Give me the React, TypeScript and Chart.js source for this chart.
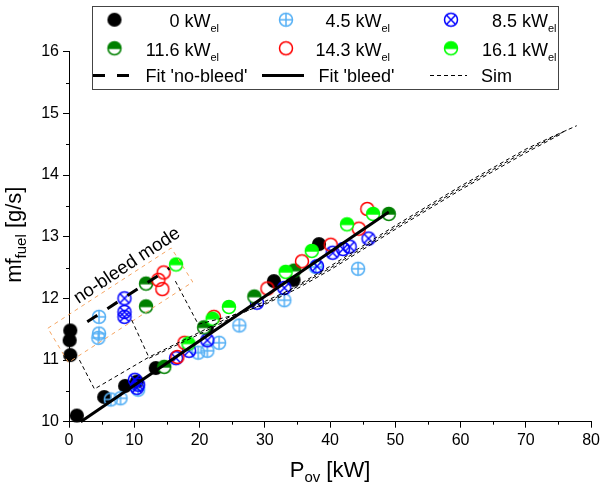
import React, { useEffect, useRef } from "react";
import { Chart, registerables } from "chart.js";

Chart.register(...registerables);

const FONT = "'Liberation Sans', Arial, Helvetica, sans-serif";

// ---- data (kW, g/s) ----
const kw0X = [0.2, 0.1, 0.2, 1.2, 5.4, 8.6, 10.4, 13.3, 21.1, 31.4, 34.4, 38.3];
const kw0Y = [11.48, 11.32, 11.08, 10.1, 10.4, 10.58, 10.65, 10.87, 11.52, 12.28, 12.3, 12.88];

const kw45X = [4.6, 4.6, 4.5, 6.4, 7.9, 10.6, 19.8, 21.2, 23.0, 26.1, 33.0, 37.8, 44.3];
const kw45Y = [11.7, 11.43, 11.36, 10.36, 10.38, 10.52, 11.12, 11.15, 11.28, 11.56, 11.97, 12.51, 12.48];

const kw85X = [8.5, 8.5, 8.5, 10.1, 10.6, 10.4, 16.4, 18.4, 21.2, 28.8, 33.0, 38.0, 40.4, 42.0, 43.0, 45.9];
const kw85Y = [12.0, 11.78, 11.7, 10.68, 10.6, 10.55, 11.03, 11.15, 11.32, 11.93, 12.17, 12.52, 12.74, 12.8, 12.84, 12.97];

const kw116X = [11.8, 11.8, 14.6, 20.7, 28.4, 34.5, 49.0];
const kw116Y = [12.24, 11.87, 10.89, 11.53, 12.03, 12.45, 13.37];

const kw143X = [14.5, 13.7, 14.3, 16.6, 17.7, 22.2, 30.4, 35.7, 40.1, 44.4, 45.7];
const kw143Y = [12.42, 12.3, 12.15, 11.05, 11.28, 11.7, 12.16, 12.6, 12.87, 13.13, 13.45];

const kw161X = [16.4, 18.3, 22.0, 24.5, 33.2, 37.2, 42.6, 46.6];
const kw161Y = [12.55, 11.27, 11.67, 11.86, 12.43, 12.77, 13.2, 13.37];

const fitNoBleedX = [2.8, 15.4];
const fitNoBleedY = [11.62, 12.49];

const fitBleedX = [1.8, 49.0];
const fitBleedY = [10.0, 13.4];

const sim1X = [1.6, 3.9, 12.3, 20, 25, 30, 33.7, 40, 45, 50, 55, 60, 65, 70, 74, 77.8];
const sim1Y = [11.0, 10.53, 11.05, 11.45, 11.72, 11.95, 12.13, 12.52, 12.85, 13.18, 13.5, 13.82, 14.12, 14.42, 14.62, 14.8];
const sim2X = [9.6, 12.3, 20, 25, 30, 35, 40, 45, 50, 55, 60, 65, 70, 76.3];
const sim2Y = [11.65, 11.03, 11.42, 11.69, 11.92, 12.19, 12.49, 12.82, 13.15, 13.47, 13.79, 14.09, 14.39, 14.73];
const sim3X = [16.3, 19.8, 25, 30, 35, 40, 45, 50, 55, 60, 65, 70, 75.3];
const sim3Y = [12.28, 11.58, 11.72, 11.9, 12.16, 12.46, 12.79, 13.12, 13.44, 13.76, 14.06, 14.36, 14.66];

// no-bleed region box corners
const boxX = [-3.24, 15.67, 18.96, -0.1, -3.24];
const boxY = [11.515, 12.817, 12.265, 10.96, 11.515];
const boxLabel = "no-bleed mode";
const boxLabelAnchor = [1.45, 11.91];

const xMinorTicks = [5, 15, 25, 35, 45, 55, 65, 75];
const yMinorTicks = [10.5, 11.5, 12.5, 13.5, 14.5, 15.5];

const seriesLabels = ["0", "4.5", "8.5", "11.6", "14.3", "16.1"];

const LIGHTBLUE = "#55b0f5";
const BLUE = "#0000ff";
const DKGREEN = "#008000";
const RED = "#ff0000";
const GREEN = "#00ff00";

function makeMarker(kind: string, color: string): HTMLCanvasElement {
  const c = document.createElement("canvas");
  const S = 18;
  c.width = S;
  c.height = S;
  const g = c.getContext("2d")!;
  const cx = S / 2, cy = S / 2, r = 6.5;
  g.lineWidth = 1.5;
  g.strokeStyle = color;
  g.fillStyle = color;
  if (kind === "filled") {
    g.beginPath();
    g.arc(cx, cy, 7.1, 0, Math.PI * 2);
    g.fill();
  } else if (kind === "open") {
    g.beginPath();
    g.arc(cx, cy, r, 0, Math.PI * 2);
    g.stroke();
  } else if (kind === "plus") {
    g.beginPath();
    g.arc(cx, cy, r, 0, Math.PI * 2);
    g.stroke();
    g.beginPath();
    g.moveTo(cx - r, cy);
    g.lineTo(cx + r, cy);
    g.moveTo(cx, cy - r);
    g.lineTo(cx, cy + r);
    g.stroke();
  } else if (kind === "cross") {
    g.beginPath();
    g.arc(cx, cy, r, 0, Math.PI * 2);
    g.stroke();
    const d = r * 0.72;
    g.beginPath();
    g.moveTo(cx - d, cy - d);
    g.lineTo(cx + d, cy + d);
    g.moveTo(cx + d, cy - d);
    g.lineTo(cx - d, cy + d);
    g.stroke();
  } else if (kind === "half") {
    g.fillStyle = "#ffffff";
    g.beginPath();
    g.arc(cx, cy, r, 0, Math.PI * 2);
    g.fill();
    g.fillStyle = color;
    g.beginPath();
    g.arc(cx, cy, r, Math.PI, Math.PI * 2);
    g.closePath();
    g.fill();
    g.beginPath();
    g.arc(cx, cy, r, 0, Math.PI * 2);
    g.stroke();
    g.beginPath();
    g.moveTo(cx - r, cy);
    g.lineTo(cx + r, cy);
    g.stroke();
  }
  return c;
}

const pts = (xs: number[], ys: number[]) => xs.map((x, i) => ({ x, y: ys[i] }));

export default function App() {
  const ref = useRef<HTMLCanvasElement>(null);

  useEffect(() => {
    const canvas = ref.current!;
    const markers = [
      makeMarker("filled", "#000000"),
      makeMarker("plus", LIGHTBLUE),
      makeMarker("cross", BLUE),
      makeMarker("half", DKGREEN),
      makeMarker("open", RED),
      makeMarker("half", GREEN),
    ];
    const seriesX = [kw0X, kw45X, kw85X, kw116X, kw143X, kw161X];
    const seriesY = [kw0Y, kw45Y, kw85Y, kw116Y, kw143Y, kw161Y];

    const scatterSets = seriesX.map((xs, i) => ({
      type: "scatter" as const,
      label: seriesLabels[i] + " kWel",
      data: pts(xs, seriesY[i]),
      pointStyle: markers[i],
      pointRadius: 7,
      pointHoverRadius: 7,
      showLine: false,
      clip: false,
      order: 10 - i,
    }));

    const line = (label: string, xs: number[], ys: number[], color: string, width: number, dash: number[], order: number) => ({
      type: "line" as const,
      label,
      data: pts(xs, ys),
      borderColor: color,
      borderWidth: width,
      borderDash: dash,
      pointRadius: 0,
      pointHoverRadius: 0,
      fill: false,
      tension: 0,
      clip: false,
      order,
    });

    const lineSets = [
      line("box", boxX, boxY, "#f5a562", 1, [4, 4], 3),
      line("Sim", sim1X, sim1Y, "#000000", 1, [4, 3], 2),
      line("Sim2", sim2X, sim2Y, "#000000", 1, [4, 3], 2),
      line("Sim3", sim3X, sim3Y, "#000000", 1, [4, 3], 2),
      line("Fit 'no-bleed'", fitNoBleedX, fitNoBleedY, "#000000", 3, [12, 12], 1),
      line("Fit 'bleed'", fitBleedX, fitBleedY, "#000000", 3, [], 1),
    ];

    const deco = {
      id: "deco",
      afterDraw(chart: any) {
        const ctx = chart.ctx as CanvasRenderingContext2D;
        const xs = chart.scales.x;
        const ys = chart.scales.y;
        ctx.save();
        // minor ticks
        ctx.strokeStyle = "#000";
        ctx.lineWidth = 1;
        ctx.setLineDash([]);
        for (const v of xMinorTicks) {
          const px = Math.round(xs.getPixelForValue(v)) + 0.5;
          ctx.beginPath();
          ctx.moveTo(px, xs.top);
          ctx.lineTo(px, xs.top + 3);
          ctx.stroke();
        }
        for (const v of yMinorTicks) {
          const py = Math.round(ys.getPixelForValue(v)) + 0.5;
          ctx.beginPath();
          ctx.moveTo(ys.right, py);
          ctx.lineTo(ys.right - 3, py);
          ctx.stroke();
        }

        // annotation text
        ctx.fillStyle = "#000";
        ctx.font = `18.5px ${FONT}`;
        ctx.textAlign = "left";
        ctx.textBaseline = "alphabetic";
        ctx.save();
        ctx.translate(xs.getPixelForValue(boxLabelAnchor[0]), ys.getPixelForValue(boxLabelAnchor[1]));
        ctx.rotate((-33.5 * Math.PI) / 180);
        ctx.fillText(boxLabel, 0, 0);
        ctx.restore();

        // axis titles
        const big = `22px ${FONT}`;
        const sub = `15px ${FONT}`;
        ctx.font = big;
        const wP = ctx.measureText("P").width;
        const wRest = ctx.measureText(" [kW]").width;
        ctx.font = sub;
        const wOv = ctx.measureText("ov").width;
        const xc = (xs.left + xs.right) / 2;
        const x0 = xc - (wP + wOv + wRest) / 2;
        const yb = 477;
        ctx.font = big;
        ctx.fillText("P", x0, yb);
        ctx.font = sub;
        ctx.fillText("ov", x0 + wP, yb + 5);
        ctx.font = big;
        ctx.fillText(" [kW]", x0 + wP + wOv, yb);

        ctx.save();
        ctx.translate(21, (ys.top + ys.bottom) / 2 - 2);
        ctx.rotate(-Math.PI / 2);
        ctx.font = big;
        const wMf = ctx.measureText("mf").width;
        const wG = ctx.measureText(" [g/s]").width;
        ctx.font = sub;
        const wFuel = ctx.measureText("fuel").width;
        const s0 = -(wMf + wFuel + wG) / 2;
        ctx.font = big;
        ctx.fillText("mf", s0, 0);
        ctx.font = sub;
        ctx.fillText("fuel", s0 + wMf, 5);
        ctx.font = big;
        ctx.fillText(" [g/s]", s0 + wMf + wFuel, 0);
        ctx.restore();

        // legend
        ctx.fillStyle = "#ffffff";
        ctx.fillRect(92.5, 6.5, 466, 83);
        ctx.strokeStyle = "#444";
        ctx.lineWidth = 1;
        ctx.strokeRect(92.5, 6.5, 466, 83);
        const colMarkX = [114.5, 286, 451];
        const colRight = [219, 390, 556.5];
        const rowMarkY = [19.7, 48.3];
        const rowBase = [27, 55.5];
        const lf = `18px ${FONT}`;
        const sf = `11px ${FONT}`;
        ctx.fillStyle = "#000";
        for (let i = 0; i < 6; i++) {
          const row = Math.floor(i / 3);
          const col = i % 3;
          const m = markers[i];
          ctx.drawImage(m, colMarkX[col] - m.width / 2, rowMarkY[row] - m.height / 2);
          ctx.font = sf;
          const we = ctx.measureText("el").width;
          ctx.textAlign = "left";
          ctx.fillText("el", colRight[col] - we, rowBase[row] + 5);
          ctx.font = lf;
          ctx.textAlign = "right";
          ctx.fillText(seriesLabels[i] + " kW", colRight[col] - we, rowBase[row]);
        }
        ctx.textAlign = "left";
        const ly = 75.5;
        ctx.strokeStyle = "#000";
        ctx.lineWidth = 3;
        ctx.setLineDash([12, 12]);
        ctx.beginPath();
        ctx.moveTo(93, ly);
        ctx.lineTo(131, ly);
        ctx.stroke();
        ctx.setLineDash([]);
        ctx.beginPath();
        ctx.moveTo(262, ly);
        ctx.lineTo(304, ly);
        ctx.stroke();
        ctx.lineWidth = 1;
        ctx.setLineDash([4, 3]);
        ctx.beginPath();
        ctx.moveTo(430, ly);
        ctx.lineTo(467, ly);
        ctx.stroke();
        ctx.setLineDash([]);
        ctx.font = lf;
        ctx.fillText("Fit 'no-bleed'", 145.5, 82);
        ctx.fillText("Fit 'bleed'", 318.5, 82);
        ctx.fillText("Sim", 481, 82);
        ctx.restore();
      },
    };

    Chart.defaults.font.family = FONT;
    const chart = new Chart(canvas, {
      type: "scatter",
      data: { datasets: [...lineSets, ...scatterSets] as any },
      options: {
        responsive: false,
        animation: false,
        events: [],
        devicePixelRatio: 1,
        layout: { padding: { top: 51.7, right: 10, left: 0, bottom: 0 } },
        plugins: { legend: { display: false }, tooltip: { enabled: false } },
        scales: {
          x: {
            type: "linear",
            min: 0,
            max: 80,
            afterFit: (s: any) => {
              s.height = 63.3;
            },
            ticks: {
              stepSize: 10,
              color: "#000",
              font: { size: 16, family: FONT },
              padding: 3,
              maxRotation: 0,
            },
            grid: { drawOnChartArea: false, drawTicks: true, tickLength: 6, tickColor: "#000", tickWidth: 1 },
            border: { display: true, color: "#000", width: 1 },
          },
          y: {
            type: "linear",
            min: 10,
            max: 16,
            afterFit: (s: any) => {
              s.width = 69;
            },
            ticks: {
              stepSize: 1,
              color: "#000",
              font: { size: 16, family: FONT },
              padding: 4,
            },
            grid: { drawOnChartArea: false, drawTicks: true, tickLength: 6, tickColor: "#000", tickWidth: 1 },
            border: { display: true, color: "#000", width: 1 },
          },
        },
      },
      plugins: [deco],
    });
    return () => chart.destroy();
  }, []);

  return (
    <div style={{ position: "absolute", left: 0, top: 0, width: 603, height: 485, background: "#fff" }}>
      <canvas ref={ref} width={603} height={485} style={{ width: 603, height: 485, display: "block" }} />
    </div>
  );
}
